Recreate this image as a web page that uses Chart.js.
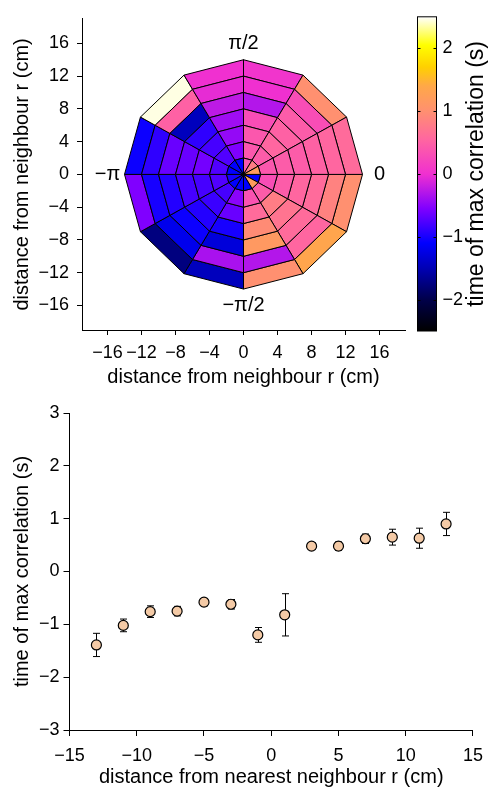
<!DOCTYPE html>
<html><head><meta charset="utf-8">
<script src="https://cdn.jsdelivr.net/npm/chart.js@4/dist/chart.umd.min.js"></script>
<style>
html,body{margin:0;padding:0;background:#fff;width:492px;height:790px;overflow:hidden}
canvas{position:absolute}
</style></head><body>
<canvas id="polar" style="left:0;top:0;width:410px;height:390px" width="410" height="390"></canvas>
<canvas id="cbar" style="left:410px;top:0;width:82px;height:390px" width="82" height="390"></canvas>
<canvas id="lag" style="left:0;top:390px;width:492px;height:400px" width="492" height="400"></canvas>
<script>
const FONT = '"Liberation Sans", Arial, Helvetica, sans-serif';

// ---------- polar map data ----------
const ringEdges = [0, 2, 4, 6, 8, 10, 12, 14];
const sectorEdgesDeg = [0, 30, 60, 90, 120, 150, 180, 210, 240, 270, 300, 330, 360];
// time of max correlation (s) per sector (0..330 deg), one array per ring
const ring0 = [1.2, 0.8, 0.4, -1.1, -1.1, -1.1, -1.0, -1.1, -1.1, -1.1, 1.2, -1.1];
const ring1 = [0.4, 0.45, 0.4, -0.55, -0.75, -0.75, -0.75, -0.8, -0.5, 0.35, 0.45, 0.3];
const ring2 = [0.45, 0.55, 0.4, -0.45, -0.8, -0.6, -0.8, -0.85, -0.65, 0.6, 0.8, 0.45];
const ring3 = [0.45, 0.5, 0.3, -0.4, -0.9, -0.65, -0.8, -0.95, -1.0, 0.95, 0.7, 0.55];
const ring4 = [0.5, 0.45, -0.3, -0.25, -1.45, -0.65, -0.95, -1.05, -1.3, 1.15, 0.6, 0.6];
const ring5 = [0.55, 0.3, 0.0, -0.05, 0.5, -0.9, -1.0, -1.2, -0.35, -0.3, 0.55, 0.85];
const ring6 = [0.6, 1.0, 0.05, 0.0, 2.45, -1.05, -0.55, -1.75, -1.45, 1.0, 1.35, 1.0];
const rings = [ring0, ring1, ring2, ring3, ring4, ring5, ring6];

const angleLabels = ['0', 'π/2', '−π', '−π/2'];
const angleLabelDeg = [0, 90, 180, 270];
const angleLabelRadius = 16;

const polarTicks = [-16, -12, -8, -4, 0, 4, 8, 12, 16];
const polarTickLabels = ['−16', '−12', '−8', '−4', '0', '4', '8', '12', '16'];

// ---------- colour map ----------
const cmapValues = [-2.5, -2.0, -1.5, -1.1, -0.55, 0.0, 0.55, 1.0, 1.4, 1.7, 2.05, 2.5];
const cmapColors = ['#000000', '#00004a', '#0000b4', '#0000ff', '#8000ff', '#f030d0', '#ff66a0', '#ff9070', '#ffa848', '#ffd000', '#ffff00', '#ffffff'];
const cbarTicks = [-2, -1, 0, 1, 2];
const cbarTickLabels = ['−2', '−1', '0', '1', '2'];

// ---------- lower panel data ----------
const distances = [-13, -11, -9, -7, -5, -3, -1, 1, 3, 5, 7, 9, 11, 13];
const meanLag = [-1.39, -1.02, -0.76, -0.75, -0.58, -0.62, -1.20, -0.82, 0.48, 0.48, 0.62, 0.65, 0.63, 0.90];
const errLag = [0.22, 0.12, 0.11, 0.09, 0.07, 0.09, 0.14, 0.40, 0.06, 0.08, 0.09, 0.15, 0.19, 0.22];
const lagXTicks = [-15, -10, -5, 0, 5, 10, 15];
const lagXTickLabels = ['−15', '−10', '−5', '0', '5', '10', '15'];
const lagYTicks = [-3, -2, -1, 0, 1, 2, 3];
const lagYTickLabels = ['−3', '−2', '−1', '0', '1', '2', '3'];

// ---------- helpers ----------
function hexToRgb(h) { return [parseInt(h.slice(1, 3), 16), parseInt(h.slice(3, 5), 16), parseInt(h.slice(5, 7), 16)]; }
function cmap(v) {
  if (v <= cmapValues[0]) return cmapColors[0];
  for (let i = 0; i < cmapValues.length - 1; i++) {
    if (v <= cmapValues[i + 1]) {
      const t = (v - cmapValues[i]) / (cmapValues[i + 1] - cmapValues[i]);
      const a = hexToRgb(cmapColors[i]), b = hexToRgb(cmapColors[i + 1]);
      return 'rgb(' + a.map((c, k) => Math.round(c + t * (b[k] - c))).join(',') + ')';
    }
  }
  return cmapColors[cmapColors.length - 1];
}
const pt = (r, deg) => ({ x: r * Math.cos(deg * Math.PI / 180), y: r * Math.sin(deg * Math.PI / 180) });

const cellSets = [];
rings.forEach((vals, j) => vals.forEach((v, k) => {
  const r0 = ringEdges[j], r1 = ringEdges[j + 1], a0 = sectorEdgesDeg[k], a1 = sectorEdgesDeg[k + 1];
  const pts = r0 === 0
    ? [pt(0, 0), pt(r1, a0), pt(r1, a1), pt(0, 0)]
    : [pt(r0, a0), pt(r1, a0), pt(r1, a1), pt(r0, a1), pt(r0, a0)];
  cellSets.push({ data: pts, showLine: true, fill: 'shape', backgroundColor: cmap(v),
    borderColor: '#000', borderWidth: 1, pointRadius: 0, tension: 0, borderJoinStyle: 'miter' });
}));

function setTicks(values) { return s => { s.ticks = values.map(v => ({ value: v })); }; }
function labelFrom(values, labels) { return v => { const i = values.indexOf(v); return i < 0 ? '' : labels[i]; }; }
const tickFont = { size: 18, family: FONT };
const titleFont = { size: 20, family: FONT };

const angleLabelPlugin = {
  id: 'angleLabels',
  afterDraw(chart) {
    const { ctx, scales: { x, y } } = chart;
    ctx.save();
    ctx.fillStyle = '#000';
    ctx.font = '20px ' + FONT;
    ctx.textAlign = 'center';
    ctx.textBaseline = 'middle';
    angleLabels.forEach((t, i) => {
      const p = pt(angleLabelRadius, angleLabelDeg[i]);
      ctx.fillText(t, x.getPixelForValue(p.x), y.getPixelForValue(p.y));
    });
    ctx.restore();
  }
};

new Chart(document.getElementById('polar'), {
  type: 'scatter',
  data: { datasets: cellSets },
  options: {
    responsive: false, animation: false, devicePixelRatio: 1, events: [],
    layout: { padding: { top: 8, right: 5, left: 0, bottom: 0 } },
    plugins: { legend: { display: false }, tooltip: { enabled: false } },
    scales: {
      x: {
        type: 'linear', min: -19, max: 19,
        afterBuildTicks: setTicks(polarTicks), afterFit: s => { s.height = 60; },
        ticks: { autoSkip: false, maxRotation: 0, padding: 7, color: '#000', font: tickFont, callback: labelFrom(polarTicks, polarTickLabels) },
        grid: { drawOnChartArea: false, tickLength: 5, tickColor: '#000', color: '#000' },
        border: { color: '#000', width: 1 },
        title: { display: true, text: 'distance from neighbour r (cm)', color: '#000', font: titleFont, padding: { top: 0, bottom: 1 } }
      },
      y: {
        type: 'linear', min: -19, max: 19,
        afterBuildTicks: setTicks(polarTicks), afterFit: s => { s.width = 82; },
        ticks: { autoSkip: false, padding: 8, color: '#000', font: tickFont, callback: labelFrom(polarTicks, polarTickLabels) },
        grid: { drawOnChartArea: false, tickLength: 5, tickColor: '#000', color: '#000' },
        border: { color: '#000', width: 1 },
        title: { display: true, text: 'distance from neighbour r (cm)', color: '#000', font: titleFont, padding: { top: 10, bottom: 0 } }
      }
    }
  },
  plugins: [angleLabelPlugin]
});

// ---------- colour bar ----------
const cbarPlugin = {
  id: 'cbar',
  beforeDatasetsDraw(chart) {
    const { ctx, chartArea: a, scales: { y } } = chart;
    const y0 = y.getPixelForValue(cmapValues[0]);
    const y1 = y.getPixelForValue(cmapValues[cmapValues.length - 1]);
    const g = ctx.createLinearGradient(0, y0, 0, y1);
    const span = cmapValues[cmapValues.length - 1] - cmapValues[0];
    cmapValues.forEach((v, i) => g.addColorStop((v - cmapValues[0]) / span, cmapColors[i]));
    ctx.save();
    ctx.fillStyle = g;
    ctx.fillRect(a.left, a.top, a.right - a.left, a.bottom - a.top);
    ctx.strokeStyle = '#000';
    ctx.lineWidth = 1;
    ctx.strokeRect(a.left, a.top, a.right - a.left, a.bottom - a.top);
    ctx.beginPath();
    cbarTicks.forEach(v => {
      const py = Math.round(y.getPixelForValue(v)) + 0.5;
      ctx.moveTo(a.left, py); ctx.lineTo(a.left + 3, py);
      ctx.moveTo(a.right - 3, py); ctx.lineTo(a.right, py);
    });
    ctx.stroke();
    ctx.translate(67, y.getPixelForValue(0));
    ctx.rotate(-Math.PI / 2);
    ctx.fillStyle = '#000';
    ctx.font = '23px ' + FONT;
    ctx.textAlign = 'center';
    ctx.textBaseline = 'middle';
    ctx.fillText('time of max correlation (s)', 0, 0);
    ctx.restore();
  }
};
new Chart(document.getElementById('cbar'), {
  type: 'scatter',
  data: { datasets: [] },
  options: {
    responsive: false, animation: false, devicePixelRatio: 1, events: [],
    layout: { padding: { top: 7.5, left: 7.5, bottom: 59, right: 0 } },
    plugins: { legend: { display: false }, tooltip: { enabled: false } },
    scales: {
      x: { display: false, min: 0, max: 1 },
      y: {
        position: 'right', type: 'linear', min: -2.5, max: 2.5,
        afterBuildTicks: setTicks(cbarTicks), afterFit: s => { s.width = 55.5; },
        ticks: { autoSkip: false, padding: 6, color: '#000', font: tickFont, callback: labelFrom(cbarTicks, cbarTickLabels) },
        grid: { drawOnChartArea: false, drawTicks: false },
        border: { display: false }
      }
    }
  },
  plugins: [cbarPlugin]
});

// ---------- lower panel ----------
const errorBarPlugin = {
  id: 'errbars',
  beforeDatasetsDraw(chart) {
    const { ctx, scales: { x, y } } = chart;
    ctx.save();
    ctx.strokeStyle = '#000';
    ctx.lineWidth = 1;
    ctx.beginPath();
    distances.forEach((d, i) => {
      const px = Math.round(x.getPixelForValue(d)) + 0.5;
      const yt = y.getPixelForValue(meanLag[i] + errLag[i]);
      const yb = y.getPixelForValue(meanLag[i] - errLag[i]);
      ctx.moveTo(px, yt); ctx.lineTo(px, yb);
      ctx.moveTo(px - 3.5, yt); ctx.lineTo(px + 3.5, yt);
      ctx.moveTo(px - 3.5, yb); ctx.lineTo(px + 3.5, yb);
    });
    ctx.stroke();
    ctx.restore();
  }
};
new Chart(document.getElementById('lag'), {
  type: 'scatter',
  data: { datasets: [{ data: distances.map((d, i) => ({ x: d, y: meanLag[i] })),
    pointRadius: 5, pointBackgroundColor: '#f4caa6', pointBorderColor: '#000', pointBorderWidth: 1.2 }] },
  options: {
    responsive: false, animation: false, devicePixelRatio: 1, events: [],
    layout: { padding: { top: 23, right: 15, left: 0, bottom: 0 } },
    plugins: { legend: { display: false }, tooltip: { enabled: false } },
    scales: {
      x: {
        type: 'linear', min: -15, max: 15,
        afterBuildTicks: setTicks(lagXTicks), afterFit: s => { s.height = 60; },
        ticks: { autoSkip: false, maxRotation: 0, padding: 9, color: '#000', font: tickFont, callback: labelFrom(lagXTicks, lagXTickLabels) },
        grid: { drawOnChartArea: false, tickLength: 6, tickColor: '#000', color: '#000' },
        border: { color: '#000', width: 1 },
        title: { display: true, text: 'distance from nearest neighbour r (cm)', color: '#000', font: titleFont, padding: { top: 0, bottom: 1 } }
      },
      y: {
        type: 'linear', min: -3, max: 3,
        afterBuildTicks: setTicks(lagYTicks), afterFit: s => { s.width = 69.5; },
        ticks: { autoSkip: false, padding: 4, color: '#000', font: tickFont, callback: labelFrom(lagYTicks, lagYTickLabels) },
        grid: { drawOnChartArea: false, tickLength: 6, tickColor: '#000', color: '#000' },
        border: { color: '#000', width: 1 },
        title: { display: true, text: 'time of max correlation (s)', color: '#000', font: titleFont, padding: { top: 10, bottom: 0 } }
      }
    }
  },
  plugins: [errorBarPlugin]
});
</script>
</body></html>
